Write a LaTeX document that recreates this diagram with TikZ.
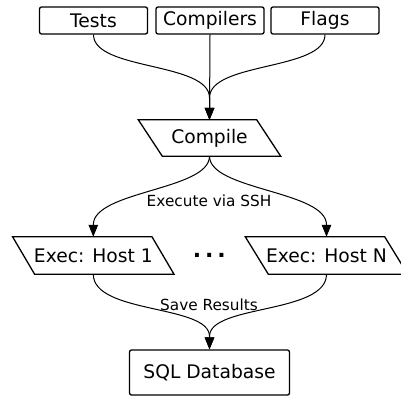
\documentclass[tikz,border=0pt]{standalone}
\usepackage{fontspec}
\setmainfont{DejaVu Sans}
\usetikzlibrary{arrows.meta,calc}
\newcommand\parashape[2]{%
  \draw[shapeline] ([xshift=-#2pt]#1.north west) -- ([xshift=-#2pt]#1.north east)
    -- ([xshift=#2pt]#1.south east) -- ([xshift=#2pt]#1.south west) -- cycle;}
\begin{document}
\begin{tikzpicture}[x=1pt,y=-1pt,
  shapeline/.style={line width=1.3pt, line join=miter},
  topbox/.style={draw, line width=1.3pt, rounded corners=2pt, minimum width=108pt, minimum height=27pt, inner sep=0pt, font=\fontsize{18.7}{22}\selectfont},
  parabox/.style={draw=none, minimum height=36pt, inner sep=0pt, font=\fontsize{18.7}{22}\selectfont},
  conn/.style={line width=1pt, -{Triangle[length=12pt,width=9.5pt]}},
  lbl/.style={inner sep=0pt, font=\fontsize{15.3}{18}\selectfont}]
\useasboundingbox (0,0) rectangle (401,396);
% top boxes
\node[topbox] (tests) at (93.5,20.5) {Tests};
\node[topbox] (compilers) at (210,20.5) {Compilers};
\node[topbox] (flags) at (325,20.5) {Flags};
% compile
\node[parabox, minimum width=118pt] (compile) at (209.5,138) {Compile};
\parashape{compile}{12}
% exec hosts
\node[parabox, minimum width=139pt, minimum height=37pt] (e1) at (93.3,255.5) {Exec: Host 1};
\parashape{e1}{11}
\node[parabox, minimum width=139pt, minimum height=37pt] (eN) at (326.5,255.5) {Exec: Host N};
\parashape{eN}{11.5}
\node[inner sep=0pt, font=\fontsize{22}{24}\selectfont\bfseries] (dots) at (209.3,255) {.\kern4pt.\kern4pt.};
% database
\node[draw, line width=1.3pt, rounded corners=2pt, minimum width=160pt, minimum height=45pt, inner sep=0pt, font=\fontsize{18.7}{22}\selectfont] (sql) at (209.5,372.5) {SQL Database};
% merge coordinates
\coordinate (m1) at ($(compile.north)+(0,-22)$);
\coordinate (m2) at ($(e1.north)+(0,-12)$);
\coordinate (m3) at ($(eN.north)+(0,-12)$);
\coordinate (m4) at ($(sql.north)+(0,-13)$);
% connectors
\draw[conn] (compilers.south) -- (compile.north);
\draw[conn] (tests.south) .. controls +(0,36) and +(0,-36) .. (m1) -- (compile.north);
\draw[conn] (flags.south) .. controls +(0,36) and +(0,-36) .. (m1) -- (compile.north);
\draw[conn] (compile.south) .. controls +(0,34) and +(0,-34) .. (m2) -- (e1.north);
\draw[conn] (compile.south) .. controls +(0,34) and +(0,-34) .. (m3) -- (eN.north);
\draw[conn] (e1.south) .. controls +(0,40) and +(0,-32) .. (m4) -- (sql.north);
\draw[conn] (eN.south) .. controls +(0,40) and +(0,-32) .. (m4) -- (sql.north);
% labels
\node[lbl] (l1) at (209,201) {Execute via SSH};
\node[lbl] (l2) at (209,305) {Save Results};
\end{tikzpicture}
\end{document}
